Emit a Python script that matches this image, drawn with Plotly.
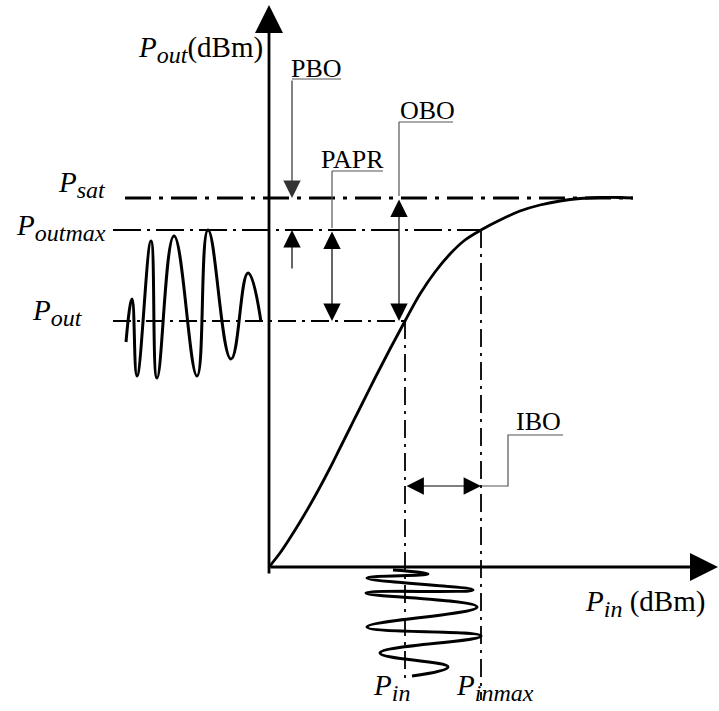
import plotly.graph_objects as go

# Drawing units: 1 unit = 1 px, origin where the Pin and Pout axes cross.

# PA transfer curve (Pout vs Pin)
pin_curve = [0, 11, 21, 31, 41, 51, 61, 71, 81, 91, 106, 121, 136, 151, 166,
             181, 196, 212, 231, 251, 271, 291, 311, 331, 351, 364]
pout_curve = [0, 14, 29, 45, 62, 80, 99, 119, 139, 159, 189, 218, 246, 273, 295,
              313, 327, 337, 347, 356, 362, 366, 368.5, 369.5, 369.5, 369]

# operating levels
P_SAT = 369
P_OUT_MAX = 337
P_OUT = 246
P_IN = 136
P_IN_MAX = 212

# output signal sketch (left of the Pout axis), turning points
out_wave_x = [-143, -137, -132, -118, -112, -95, -72, -61, -38, -21, -8]
out_wave_y = [225, 268, 191, 326, 189, 331, 191, 337, 208, 294, 245]

# input signal sketch (below the Pin axis), turning points
in_wave_x = [124, 159, 98, 204, 97, 208, 98, 212, 111, 179, 143]
in_wave_y = [-3, -7, -11, -23, -26, -40, -60, -69, -86, -100, -109]

SERIF = "Liberation Serif"
BLACK = "#000000"
LEADER = "#555555"
MATH_SIZE = 29
SUB_SIZE = 24
WORD_SIZE = 26

fig = go.Figure()

# transfer curve
fig.add_trace(go.Scatter(x=pin_curve, y=pout_curve, mode="lines",
                         line=dict(color=BLACK, width=2.8, shape="spline")))

# signal sketches
fig.add_trace(go.Scatter(x=out_wave_x, y=out_wave_y, mode="lines",
                         line=dict(color=BLACK, width=3, shape="spline", smoothing=1.3)))
fig.add_trace(go.Scatter(x=in_wave_x, y=in_wave_y, mode="lines",
                         line=dict(color=BLACK, width=3, shape="spline", smoothing=1.3)))

# dash-dot level lines
fig.add_trace(go.Scatter(x=[-144, 364], y=[P_SAT, P_SAT], mode="lines",
                         line=dict(color=BLACK, width=3, dash="26px,8px,4px,8px")))
fig.add_trace(go.Scatter(x=[-156, P_IN_MAX], y=[P_OUT_MAX, P_OUT_MAX], mode="lines",
                         line=dict(color=BLACK, width=1.8, dash="28px,6px,3px,6px")))
fig.add_trace(go.Scatter(x=[-156, P_IN], y=[P_OUT, P_OUT], mode="lines",
                         line=dict(color=BLACK, width=1.8, dash="18px,6px,3px,6px")))
fig.add_trace(go.Scatter(x=[P_IN, P_IN], y=[P_OUT, -113], mode="lines",
                         line=dict(color=BLACK, width=1.8, dash="18px,6px,3px,6px")))
fig.add_trace(go.Scatter(x=[P_IN_MAX, P_IN_MAX], y=[P_OUT_MAX, -133], mode="lines",
                         line=dict(color=BLACK, width=1.8, dash="18px,6px,3px,6px")))

# leader lines to the labels
leaders = [
    ([23, 72], [488, 488]),                      # PBO
    ([63, 114], [396, 396]),                     # PAPR
    ([130, 184], [445, 445]),                    # OBO
    ([294, 239, 239, 213], [132, 132, 81, 81]),  # IBO
    ([63, 63], [396, P_OUT_MAX + 2]),
    ([130, 130], [445, P_SAT + 2]),
]
for lx, ly in leaders:
    fig.add_trace(go.Scatter(x=lx, y=ly, mode="lines",
                             line=dict(color=LEADER, width=1.2)))

annotations = []


def arrow(x, y, ax, ay, width=1.2, size=2.9, both=False, color=BLACK):
    annotations.append(dict(
        x=x, y=y, ax=ax, ay=ay, xref="x", yref="y", axref="x", ayref="y",
        text="", showarrow=True, arrowhead=2, arrowsize=size, arrowwidth=width,
        arrowcolor=color, arrowside="end+start" if both else "end",
        startarrowhead=2, startarrowsize=size, standoff=0, startstandoff=0,
    ))


# axes
arrow(0, 562, 0, -8, width=2.8, size=2.0)
arrow(449, 0, 0, 0, width=2.8, size=2.0)

# PBO: two arrows pointing at the gap between Psat and Poutmax
arrow(23, P_SAT, 23, 488, color="#333333")
arrow(23, P_OUT_MAX, 23, 297)
# PAPR, OBO, IBO double arrows
arrow(63, P_OUT, 63, P_OUT_MAX, both=True)
arrow(130, P_OUT, 130, P_SAT, both=True)
arrow(P_IN_MAX, 81, P_IN, 81, both=True)


def math(sub, tail=""):
    return (f"<i>P</i><sub><span style='font-size:{SUB_SIZE}px'><i>{sub}</i></span></sub>"
            + tail)


def label(x, y, text, size, xanchor="center"):
    annotations.append(dict(
        x=x, y=y, xref="x", yref="y", text=text, showarrow=False,
        xanchor=xanchor, yanchor="middle",
        font=dict(family=SERIF, size=size, color=BLACK),
    ))


label(-4, 518, math("out", "(dBm)"), MATH_SIZE, xanchor="right")
label(-161, 383, math("sat"), MATH_SIZE, xanchor="right")
label(-161, 340, math("outmax"), MATH_SIZE, xanchor="right")
label(-184, 255, math("out"), MATH_SIZE, xanchor="right")
label(438, -36, math("in", " (dBm)"), MATH_SIZE, xanchor="right")
label(122, -120, math("in"), MATH_SIZE)
label(226, -120, math("inmax"), MATH_SIZE)

label(47, 499, "PBO", WORD_SIZE)
label(83, 408, "PAPR", WORD_SIZE)
label(158, 457, "OBO", WORD_SIZE)
label(269, 146, "IBO", WORD_SIZE)

fig.update_layout(
    width=719, height=711,
    margin=dict(l=0, r=0, t=0, b=0),
    paper_bgcolor="white", plot_bgcolor="white",
    showlegend=False,
    annotations=annotations,
    xaxis=dict(range=[-269, 450], visible=False, fixedrange=True),
    yaxis=dict(range=[-144, 567], visible=False, fixedrange=True),
)

fig.write_html("out.html", config={"displayModeBar": False},
               post_script="document.body.style.margin = '0';")
